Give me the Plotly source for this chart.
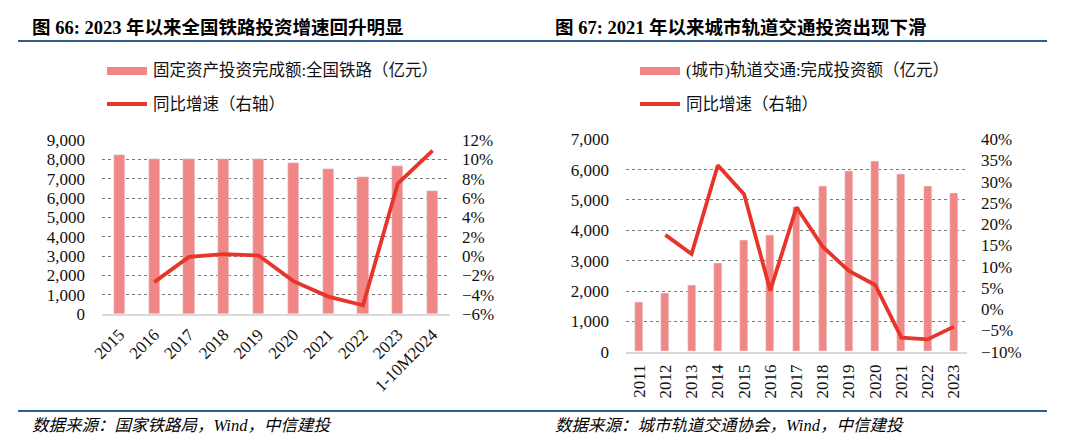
import plotly.graph_objects as go

# ---- Data: chart 66 (railway) ----
rail_years = ["2015", "2016", "2017", "2018", "2019", "2020", "2021", "2022", "2023", "1-10M2024"]
rail_invest = [8230, 8015, 8010, 8028, 8029, 7819, 7489, 7109, 7645, 6365]
rail_yoy = [None, -2.7, -0.1, 0.2, 0.05, -2.6, -4.2, -5.1, 7.5, 10.9]

# ---- Data: chart 67 (urban rail transit) ----
metro_years = ["2011", "2012", "2013", "2014", "2015", "2016", "2017", "2018", "2019", "2020", "2021", "2022", "2023"]
metro_invest = [1640, 1925, 2175, 2900, 3670, 3847, 4760, 5450, 5956, 6275, 5857, 5443, 5214]
metro_yoy = [None, 17.5, 13.0, 33.9, 27.1, 4.4, 24.0, 14.7, 9.0, 5.7, -6.7, -7.1, -4.1]

BAR = "#F08784"
LINE = "#E8352B"
BLUE = "#2F5F8E"
SERIF = "Liberation Serif, Times New Roman, Noto Sans CJK SC, serif"
CJK = "Liberation Serif, Noto Sans CJK SC, sans-serif"

# page body has an 8px margin: figure sits at (8, 8) in the window
OFF = 8
W, H = 1080 - OFF, 447 - OFF

def px(x):
    return (x - OFF) / W

def py(y):
    return 1 - (y - OFF) / H

fig = go.Figure()

fig.add_trace(go.Bar(x=rail_years, y=rail_invest, marker_color=BAR, width=0.32,
                     xaxis="x", yaxis="y", showlegend=False))
fig.add_trace(go.Scatter(x=rail_years, y=rail_yoy, mode="lines",
                         line=dict(color=LINE, width=3.8), xaxis="x", yaxis="y2", showlegend=False))
fig.add_trace(go.Bar(x=metro_years, y=metro_invest, marker_color=BAR, width=0.3,
                     xaxis="x2", yaxis="y3", showlegend=False))
fig.add_trace(go.Scatter(x=metro_years, y=metro_yoy, mode="lines",
                         line=dict(color=LINE, width=3.8), xaxis="x2", yaxis="y4", showlegend=False))

tickfont = dict(family=SERIF, size=17, color="#111")
grid = dict(showgrid=True, gridcolor="#7a7a7a", griddash="dot", gridwidth=1)

fig.update_layout(
    width=W, height=H,
    margin=dict(l=0, r=0, t=0, b=0, autoexpand=False),
    paper_bgcolor="white", plot_bgcolor="white",
    bargap=0,
    xaxis=dict(domain=[px(102), px(450)], anchor="y", tickangle=-45, tickfont=tickfont,
               automargin=False, ticklabelstandoff=2,
               showline=True, linecolor="#d9d9d9", linewidth=2, ticks="", showgrid=False),
    yaxis=dict(domain=[py(314), py(140)], anchor="x", range=[0, 9000], dtick=1000,
               automargin=False, ticklabelstandoff=16,
               tickformat=",", tickfont=tickfont, zeroline=False, **grid),
    yaxis2=dict(overlaying="y", side="right", anchor="x", range=[-6, 12], dtick=2,
                automargin=False, ticklabelstandoff=11,
                ticksuffix="%", tickfont=tickfont, showgrid=False, zeroline=False),
    xaxis2=dict(domain=[px(626), px(967)], anchor="y3", tickangle=-90, tickfont=tickfont,
                automargin=False, ticklabelstandoff=4,
                showline=True, linecolor="#d9d9d9", linewidth=2, ticks="", showgrid=False),
    yaxis3=dict(domain=[py(351.7), py(139.3)], anchor="x2", range=[0, 7000], dtick=1000,
                automargin=False, ticklabelstandoff=16,
                tickformat=",", tickfont=tickfont, zeroline=False, **grid),
    yaxis4=dict(overlaying="y3", side="right", anchor="x2", range=[-10, 40], dtick=5,
                automargin=False, ticklabelstandoff=13,
                ticksuffix="%", tickfont=tickfont, showgrid=False, zeroline=False),
)

shapes = []
annotations = []

# title rules and bottom rules
for x0, x1 in [(18, 540), (540, 1047)]:
    shapes.append(dict(type="line", xref="paper", yref="paper", x0=px(x0), x1=px(x1),
                       y0=py(41), y1=py(41), line=dict(color=BLUE, width=2)))
    shapes.append(dict(type="line", xref="paper", yref="paper", x0=px(x0), x1=px(x1),
                       y0=py(411), y1=py(411), line=dict(color=BLUE, width=2)))

titles = [(30, "图 66: 2023 年以来全国铁路投资增速回升明显"),
          (553, "图 67: 2021 年以来城市轨道交通投资出现下滑")]
for x, t in titles:
    annotations.append(dict(xref="paper", yref="paper", x=px(x), y=py(28), xanchor="left",
                            yanchor="middle", showarrow=False, text="<b>" + t + "</b>",
                            font=dict(family=CJK, size=18.5, color="#000")))

sources = [(30, "数据来源：国家铁路局，Wind，中信建投"),
           (553, "数据来源：城市轨道交通协会，Wind，中信建投")]
for x, t in sources:
    annotations.append(dict(xref="paper", yref="paper", x=px(x), y=py(425), xanchor="left",
                            yanchor="middle", showarrow=False, text="<i>" + t + "</i>",
                            font=dict(family=CJK, size=16.5, color="#000")))

legends = [(107, "固定资产投资完成额:全国铁路（亿元）"),
           (640, "(城市)轨道交通:完成投资额（亿元）")]
for x, t in legends:
    shapes.append(dict(type="rect", xref="paper", yref="paper", x0=px(x), x1=px(x + 40),
                       y0=py(75), y1=py(67), fillcolor=BAR, line=dict(width=0)))
    annotations.append(dict(xref="paper", yref="paper", x=px(x + 44), y=py(71), xanchor="left",
                            yanchor="middle", showarrow=False, text=t,
                            font=dict(family=CJK, size=16.5, color="#111")))
    shapes.append(dict(type="line", xref="paper", yref="paper", x0=px(x), x1=px(x + 40),
                       y0=py(104), y1=py(104), line=dict(color=LINE, width=3.8)))
    annotations.append(dict(xref="paper", yref="paper", x=px(x + 44), y=py(104), xanchor="left",
                            yanchor="middle", showarrow=False, text="同比增速（右轴）",
                            font=dict(family=CJK, size=16.5, color="#111")))

fig.update_layout(shapes=shapes, annotations=annotations)
fig.write_html("out.html")
